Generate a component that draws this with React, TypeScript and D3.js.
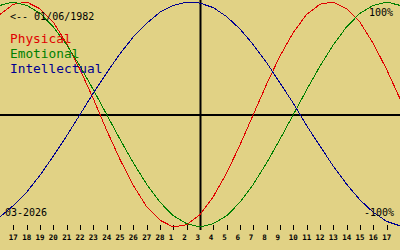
import React from "react";
import * as d3 from "d3";

// Days shown: index -1 (16 Feb) .. 29 (18 Mar); labelled ticks index 0..28
const dayLabels = ["17","18","19","20","21","22","23","24","25","26","27","28","1","2","3","4","5","6","7","8","9","10","11","12","13","14","15","16","17"];
// Values (%) from 16 Feb to 18 Mar 2026
const physical = [89,98,100,94,82,63,40,14,-14,-40,-63,-82,-94,-100,-98,-89,-73,-52,-27,0,27,52,73,89,98,100,94,82,63,40,14];
const emotional = [97,100,97,90,78,62,43,22,0,-22,-43,-62,-78,-90,-97,-100,-97,-90,-78,-62,-43,-22,0,22,43,62,78,90,97,100,97];
const intellectual = [-91,-81,-69,-54,-37,-19,0,19,37,54,69,81,91,97,100,99,95,87,76,62,46,28,10,-10,-28,-46,-62,-76,-87,-95,-99];
const seriesNames = ["Physical", "Emotional", "Intellectual"];
const seriesColors = ["#e00000", "#008000", "#000090"];
const birthLabel = "<-- 01/06/1982";
const monthLabel = "03-2026";
const todayIndex = 14;

export default function App() {
  const W = 400, H = 250;
  const x = d3.scaleLinear().domain([-1, 29]).range([0, 400]);
  const y = d3.scaleLinear().domain([-100, 100]).range([227, 2]);
  const line = d3.line<number>().x((_, i) => x(i - 1)).y((v) => y(v));
  const all = [physical, emotional, intellectual];
  const mono = "'DejaVu Sans Mono', monospace";
  return (
    <svg width={W} height={H} style={{ position: "absolute", left: 0, top: 0, display: "block" }}>
      <rect x={0} y={0} width={W} height={H} fill="#e1d285" />
      <line x1={0} x2={W} y1={115} y2={115} stroke="#000" strokeWidth={2} />
      <line x1={x(todayIndex) + 0.5} x2={x(todayIndex) + 0.5} y1={0} y2={230} stroke="#000" strokeWidth={2} />
      {dayLabels.map((d, i) => (
        <g key={i}>
          <line x1={Math.round(x(i)) + 0.5} x2={Math.round(x(i)) + 0.5} y1={225} y2={230} stroke="#000" strokeWidth={1} />
          <text x={x(i) - 4.5} y={240} fontFamily={mono} fontWeight="bold" fontSize={7.5} fill="#000">{d}</text>
        </g>
      ))}
      {all.map((s, k) => (
        <path key={k} d={line(s) || ""} fill="none" stroke={seriesColors[k]} strokeWidth={1} shapeRendering="crispEdges" />
      ))}
      <text x={10} y={20} fontFamily={mono} fontSize={10} fill="#000">{birthLabel}</text>
      {seriesNames.map((n, k) => (
        <text key={n} x={10} y={43 + k * 15} fontFamily={mono} fontSize={12.8} fill={seriesColors[k]}>{n}</text>
      ))}
      <text x={393} y={16} textAnchor="end" fontFamily={mono} fontSize={10} fill="#000">100%</text>
      <text x={394} y={216} textAnchor="end" fontFamily={mono} fontSize={10} fill="#000">-100%</text>
      <text x={5} y={216} fontFamily={mono} fontSize={10} fill="#000">{monthLabel}</text>
    </svg>
  );
}
